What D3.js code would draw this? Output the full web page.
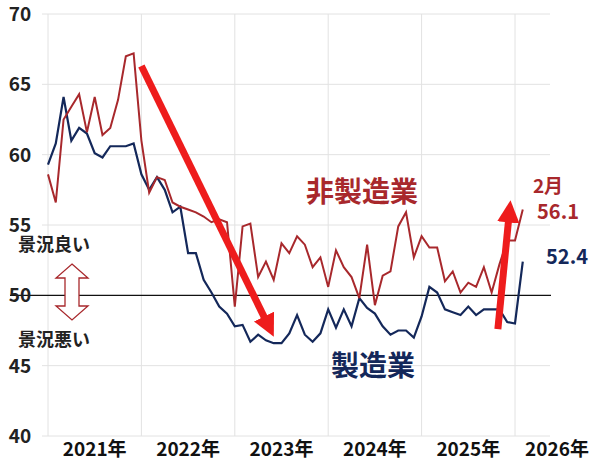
<!DOCTYPE html>
<html><head><meta charset="utf-8">
<script src="https://cdn.jsdelivr.net/npm/d3@7"></script>
<style>body{margin:0;background:#fff}text{font-family:"Noto Sans CJK JP","Noto Sans",sans-serif;font-weight:700}</style>
</head><body><svg></svg>
<script>
// monthly diffusion index, Jan 2021 - Feb 2026
var nonMfg = [58.6,56.6,62.5,63.4,64.3,61.6,64.1,61.4,61.9,63.9,67.0,67.2,
  61.0,57.3,58.4,58.2,56.6,56.3,56.1,55.9,55.6,55.2,55.4,55.2,
  49.2,54.9,55.1,51.3,52.4,51.1,53.7,53.0,54.2,53.6,52.0,52.7,
  50.6,53.2,52.0,51.3,49.8,53.6,49.3,51.4,51.7,54.9,55.9,52.7,
  54.2,53.4,53.4,51.0,51.7,50.2,50.9,50.6,52.0,50.2,52.2,53.9,
  53.9,56.1];
var mfg = [59.3,60.8,64.1,61.0,61.9,61.5,60.1,59.8,60.6,60.6,60.6,60.8,
  58.6,57.5,58.4,57.5,55.9,56.3,53.0,53.0,51.1,50.2,49.2,48.7,
  47.8,47.9,46.7,47.2,46.8,46.6,46.6,47.3,48.6,47.2,46.7,47.3,
  49.0,47.7,49.0,47.8,49.8,49.1,48.7,47.8,47.2,47.5,47.5,47.0,
  48.5,50.6,50.2,49.0,48.8,48.6,49.2,48.6,49.0,49.0,49.0,48.1,
  48.0,52.4];
var yearLabels = ["2021年","2022年","2023年","2024年","2025年","2026年"];
var yTicks = [40,45,50,55,60,65,70];

var W = 600, H = 463;
var svg = d3.select("svg").attr("width",W).attr("height",H);
var RED = "#a8282c", NAVY = "#14285a", ARROW = "#ee1c1c";

var x = d3.scaleLinear().domain([0,60]).range([48,515]);
var y = d3.scaleLinear().domain([40,70]).range([436,14]);

// grid
svg.append("g").selectAll("line").data(yTicks.filter(function(t){return t!=50;}))
  .enter().append("line")
  .attr("x1",42).attr("x2",550).attr("y1",y).attr("y2",y)
  .attr("stroke","#e2e2e2");
svg.append("g").selectAll("line").data(d3.range(0,61,12))
  .enter().append("line")
  .attr("x1",x).attr("x2",x).attr("y1",y(70)).attr("y2",y(40))
  .attr("stroke","#e2e2e2");
svg.append("line").attr("x1",10).attr("x2",551).attr("y1",y(50)).attr("y2",y(50))
  .attr("stroke","#111").attr("stroke-width",1.3);

// y labels
svg.append("g").selectAll("text").data(yTicks).enter().append("text")
  .attr("x",20).attr("y",function(d){return y(d)+7;})
  .attr("text-anchor","middle").attr("font-size",19).attr("fill","#222")
  .text(function(d){return d;});
// year labels
svg.append("g").selectAll("text").data(yearLabels).enter().append("text")
  .attr("x",function(d,i){return i<5 ? x(i*12+6) : x(60)+42;})
  .attr("y",456).attr("text-anchor","middle").attr("font-size",19).attr("fill","#111")
  .text(function(d){return d;});

var line = d3.line().x(function(d,i){return x(i);}).y(function(d){return y(d);});
svg.append("path").datum(mfg).attr("d",line).attr("fill","none").attr("stroke",NAVY).attr("stroke-width",2.2);
svg.append("path").datum(nonMfg).attr("d",line).attr("fill","none").attr("stroke",RED).attr("stroke-width",2);

// arrows
var defs = svg.append("defs");
defs.append("marker").attr("id","ah").attr("viewBox","0 0 10 10").attr("refX",2).attr("refY",5)
  .attr("markerWidth",3.2).attr("markerHeight",3.2).attr("orient","auto")
  .append("path").attr("d","M0,0L10,5L0,10Z").attr("fill",ARROW);
function arrow(i0,v0,i1,v1){
  svg.append("line").attr("x1",x(i0)).attr("y1",y(v0)).attr("x2",x(i1)).attr("y2",y(v1))
    .attr("stroke",ARROW).attr("stroke-width",7).attr("marker-end","url(#ah)");
}
arrow(12,66.3,28,48.2);
arrow(57.8,47.6,59.2,55.5);

// labels
function label(t,xx,yy,size,col,anchor){
  svg.append("text").attr("x",xx).attr("y",yy).attr("font-size",size).attr("fill",col)
    .attr("text-anchor",anchor||"middle").text(t);
}
label("非製造業",362,202,28,RED);
label("製造業",373,376,28,NAVY);
label("2月",548,193,19,RED);
label("56.1",558,219,20,RED);
label("52.4",567,264,20,NAVY);
label("景況良い",18,251,18,"#222","start");
label("景況悪い",18,346,18,"#222","start");

// double-headed outline arrow
svg.append("path")
  .attr("d","M72,264 L88,278 L79,278 L79,306 L88,306 L72,320 L56,306 L65,306 L65,278 L56,278 Z")
  .attr("fill","#fff").attr("stroke",RED).attr("stroke-width",1.3);
</script></body></html>
